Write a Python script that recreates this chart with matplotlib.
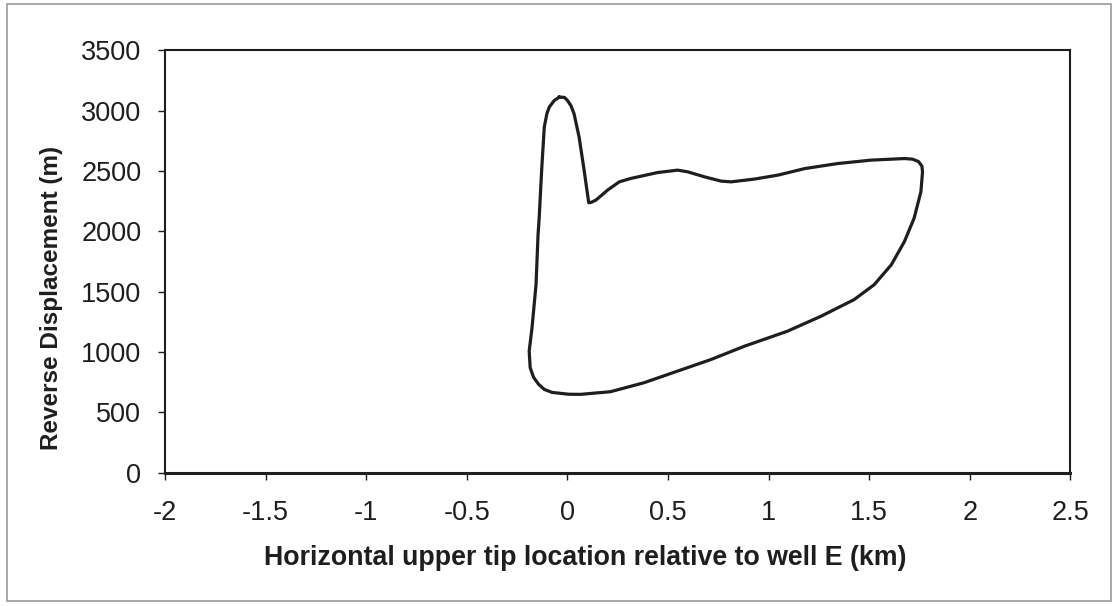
import matplotlib.pyplot as plt
from matplotlib.patches import Rectangle

# closed outline (km, m)
x_km = [-0.04, -0.015, 0.0, 0.018, 0.033, 0.058, 0.083, 0.098, 0.106, 0.118,
        0.142, 0.2, 0.258, 0.315, 0.448, 0.548, 0.598, 0.68, 0.764, 0.814,
        0.93, 1.047, 1.18, 1.345, 1.51, 1.675, 1.715, 1.745, 1.762, 1.765,
        1.757, 1.723, 1.675, 1.61, 1.525, 1.425, 1.26, 1.093, 0.88, 0.714,
        0.548, 0.38, 0.214, 0.065, 0.006, -0.076, -0.115, -0.143, -0.168,
        -0.185, -0.19, -0.176, -0.156, -0.146, -0.14, -0.128, -0.115, -0.102,
        -0.09, -0.065, -0.04]
disp_m = [3112, 3110, 3085, 3040, 2974, 2782, 2507, 2330, 2237, 2240,
          2259, 2342, 2410, 2438, 2487, 2507, 2493, 2452, 2416, 2410,
          2433, 2466, 2520, 2562, 2590, 2603, 2598, 2578, 2540, 2493,
          2328, 2108, 1915, 1723, 1558, 1434, 1296, 1172, 1048, 938,
          842, 745, 671, 649, 650, 665, 690, 732, 790,
          869, 1007, 1200, 1558, 1970, 2121, 2507, 2864, 2975,
          3030, 3085, 3112]

xticks = [-2, -1.5, -1, -0.5, 0, 0.5, 1, 1.5, 2, 2.5]
xlabels = ['-2', '-1.5', '-1', '-0.5', '0', '0.5', '1', '1.5', '2', '2.5']
yticks = [0, 500, 1000, 1500, 2000, 2500, 3000, 3500]

plt.rcParams['font.family'] = ['Liberation Sans', 'DejaVu Sans']

fig = plt.figure(figsize=(11.15, 6.06), dpi=100)
ax = fig.add_axes([0.148, 0.22, 0.812, 0.697])

ax.plot(x_km, disp_m, color='#1e1e1e', lw=2.3, solid_joinstyle='round')

ax.set_xlim(-2, 2.5)
ax.set_ylim(0, 3500)
ax.set_xticks(xticks)
ax.set_xticklabels(xlabels)
ax.set_yticks(yticks)
ax.tick_params(direction='out', length=5, width=1, labelsize=19.5, colors='#1e1e1e')
ax.tick_params(axis='x', pad=15)
ax.tick_params(axis='y', pad=12)
for s in ax.spines.values():
    s.set_linewidth(1.5)
    s.set_color('#1e1e1e')
ax.spines['bottom'].set_linewidth(2.2)

ax.set_xlabel('Horizontal upper tip location relative to well E (km)',
              fontsize=19.3, fontweight='bold', color='#1e1e1e')
ax.set_ylabel('Reverse Displacement (m)', fontsize=17.5, fontweight='bold',
              color='#1e1e1e')
ax.xaxis.set_label_coords(0.464, -0.172)
ax.yaxis.set_label_coords(-0.113, 0.413)

fig.patches.append(Rectangle((0.006, 0.008), 0.99, 0.985, transform=fig.transFigure,
                             fill=False, edgecolor='#999999', lw=1.2))

fig.savefig('out.png', dpi=100)
